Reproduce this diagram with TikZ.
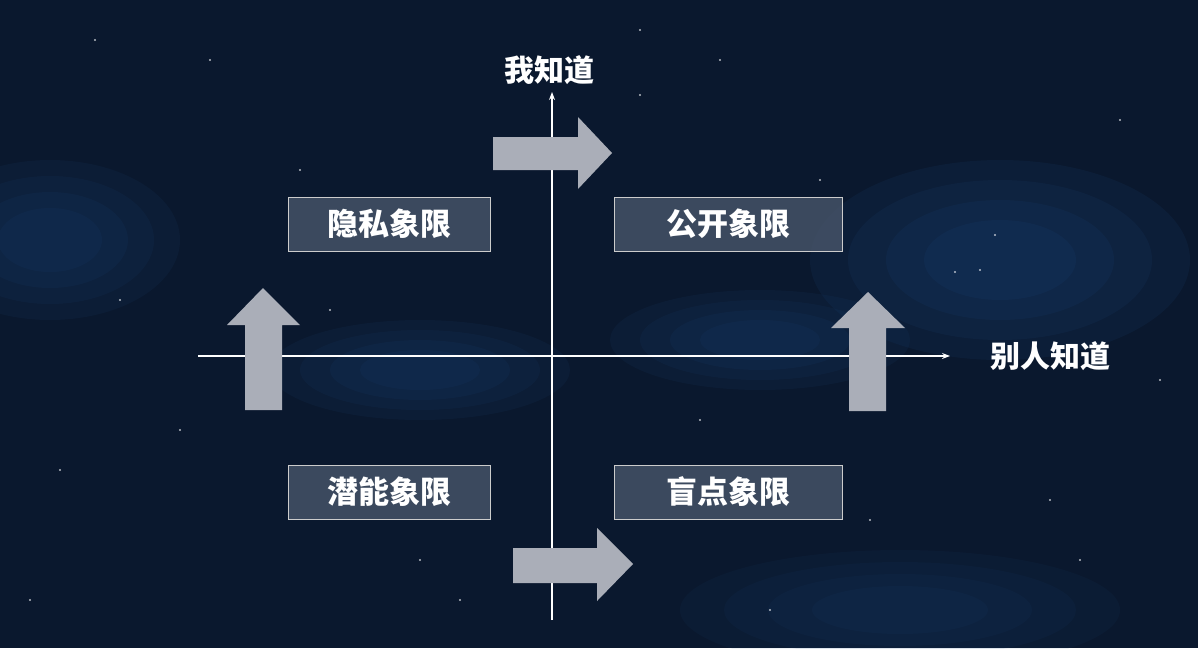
\documentclass[tikz,border=0pt]{standalone}
\usepackage{fontspec}
\newfontfamily\cjk{Noto Sans CJK SC}
\usetikzlibrary{arrows.meta}
\begin{document}
\begin{tikzpicture}[x=1pt,y=-1pt,
  quad/.style={draw=white!60!gray,line width=1pt,fill=boxc,fill opacity=0.8,text opacity=1,minimum width=#1,minimum height=54pt,text=white,font=\cjk\bfseries\fontsize{31}{34}\selectfont},
  axlab/.style={text=white,font=\cjk\bfseries\fontsize{30}{34}\selectfont},
  blk/.style={fill=arrc},
  ax/.style={white,line width=1.2pt,-{Stealth[length=8pt,width=6pt]}}]
\definecolor{bg}{RGB}{10,24,46}
\definecolor{cloud}{RGB}{30,75,130}
\definecolor{boxc}{RGB}{72,86,106}
\definecolor{arrc}{RGB}{170,174,184}
\fill[bg] (0,0) rectangle (1198,648);
\useasboundingbox (0,0) rectangle (1198,648);
\foreach \r in {1,0.8,0.6,0.4}{
  \fill[cloud,opacity=0.12] (1000,260) ellipse ({190*\r} and {100*\r});
  \fill[cloud,opacity=0.1] (50,240) ellipse ({130*\r} and {80*\r});
  \fill[cloud,opacity=0.1] (420,370) ellipse ({150*\r} and {50*\r});
  \fill[cloud,opacity=0.1] (760,340) ellipse ({150*\r} and {50*\r});
  \fill[cloud,opacity=0.08] (900,610) ellipse ({220*\r} and {60*\r});
}
\foreach \x/\y in {95/40,720/60,330/310,420/560,980/270,1120/120,60/470,770/610,210/60,1050/500,640/95,955/272,180/430,1160/380,995/235,120/300,300/170,870/520,700/420,460/600,1080/560,30/600,640/30,820/180}
  \fill[white,opacity=0.7] (\x,\y) circle (1.1);
\coordinate (vb) at (552,620); \coordinate (vt) at (552,92);
\coordinate (hl) at (198,356); \coordinate (hr) at (950,356);
\draw[ax] (vb) -- (vt);
\draw[ax] (hl) -- (hr);
\node[axlab] (me) at (549,70) {我知道};
\node[axlab] (oth) at (1050,356) {别人知道};
\node[quad=202pt] (q1) at (389,224) {隐私象限};
\node[quad=228pt] (q2) at (728,224) {公开象限};
\node[quad=202pt] (q3) at (389,492) {潜能象限};
\node[quad=228pt] (q4) at (728,492) {盲点象限};
\fill[blk] (493,137) -- (578,137) -- (578,117) -- (612,153) -- (578,189) -- (578,170) -- (493,170) -- cycle;
\fill[blk] (513,548) -- (597,548) -- (597,528) -- (633,564) -- (597,601) -- (597,583) -- (513,583) -- cycle;
\fill[blk] (245,410) -- (245,325) -- (227,325) -- (263,288) -- (300,325) -- (282,325) -- (282,410) -- cycle;
\fill[blk] (849,411) -- (849,328) -- (831,328) -- (868,292) -- (905,328) -- (886,328) -- (886,411) -- cycle;
\end{tikzpicture}
\end{document}
